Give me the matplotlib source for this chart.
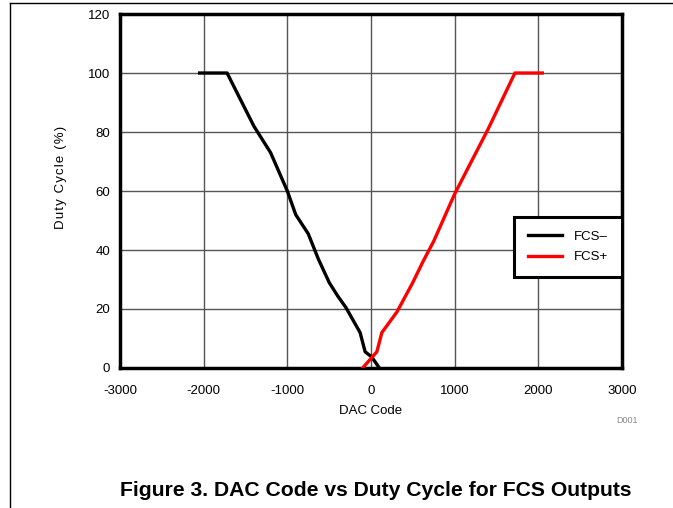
import matplotlib
matplotlib.use('Agg')
import matplotlib.pyplot as plt
from matplotlib.lines import Line2D

plt.rcParams['font.family'] = ['Liberation Sans', 'DejaVu Sans']
plt.rcParams['axes.unicode_minus'] = False

# FCS- (black)
fcs_minus_x = [-2048, -1720, -1400, -1200, -1000, -900, -750, -630, -500, -400, -300, -130, -70, 10, 100]
fcs_minus_y = [100, 100, 82, 73, 60, 52, 45.5, 37, 29, 24.5, 20.5, 12, 5.5, 3.7, 0]

# FCS+ (red)
fcs_plus_x = [-100, 70, 130, 310, 500, 620, 750, 1000, 1200, 1400, 1720, 2048]
fcs_plus_y = [0, 5.5, 12, 19, 29, 36, 43, 59, 70, 81, 100, 100]

x_ticks = [-3000, -2000, -1000, 0, 1000, 2000, 3000]
y_ticks = [0, 20, 40, 60, 80, 100, 120]

fig = plt.figure(figsize=(6.73, 5.08), dpi=100)
ax = fig.add_axes([0.1783, 0.2756, 0.7459, 0.6968])

ax.plot(fcs_minus_x, fcs_minus_y, color='black', lw=2.4, label='FCS\u2013', zorder=3)
ax.plot(fcs_plus_x, fcs_plus_y, color='red', lw=2.4, label='FCS+', zorder=3)

ax.set_xlim(-3000, 3000)
ax.set_ylim(0, 120)
ax.set_xticks(x_ticks)
ax.set_yticks(y_ticks)
ax.grid(True, color='#555555', lw=1)
ax.tick_params(axis='both', length=0, labelsize=9.5)
ax.tick_params(axis='x', pad=12)
ax.tick_params(axis='y', pad=7)
for s in ax.spines.values():
    s.set_linewidth(2.5)

ax.set_xlabel('DAC Code', fontsize=9.5, labelpad=6)
ylab = '\u200a'.join('Duty Cycle (%)')
ax.set_ylabel(ylab, fontsize=9.5)
ax.yaxis.set_label_coords(-0.105, 0.537)

leg = ax.legend(loc='center right', bbox_to_anchor=(1.0, 0.342), borderaxespad=0,
                fancybox=False, edgecolor='black', fontsize=9.5,
                handlelength=2.6, handletextpad=0.9, borderpad=1.05,
                labelspacing=0.6, framealpha=1)
leg.get_frame().set_linewidth(2.2)

fig.text(0.932, 0.172, 'D001', fontsize=6.5, color='#888888', ha='center', va='center')
fig.text(0.558, 0.035, 'Figure 3. DAC Code vs Duty Cycle for FCS Outputs',
         fontsize=15.2, fontweight='bold', ha='center', va='center')

fig.add_artist(Line2D([10 / 673, 10 / 673], [0, 1 - 3 / 508], color='black', lw=1, transform=fig.transFigure))
fig.add_artist(Line2D([10 / 673, 1], [1 - 3 / 508, 1 - 3 / 508], color='black', lw=1, transform=fig.transFigure))

fig.savefig('out.png', dpi=100)
